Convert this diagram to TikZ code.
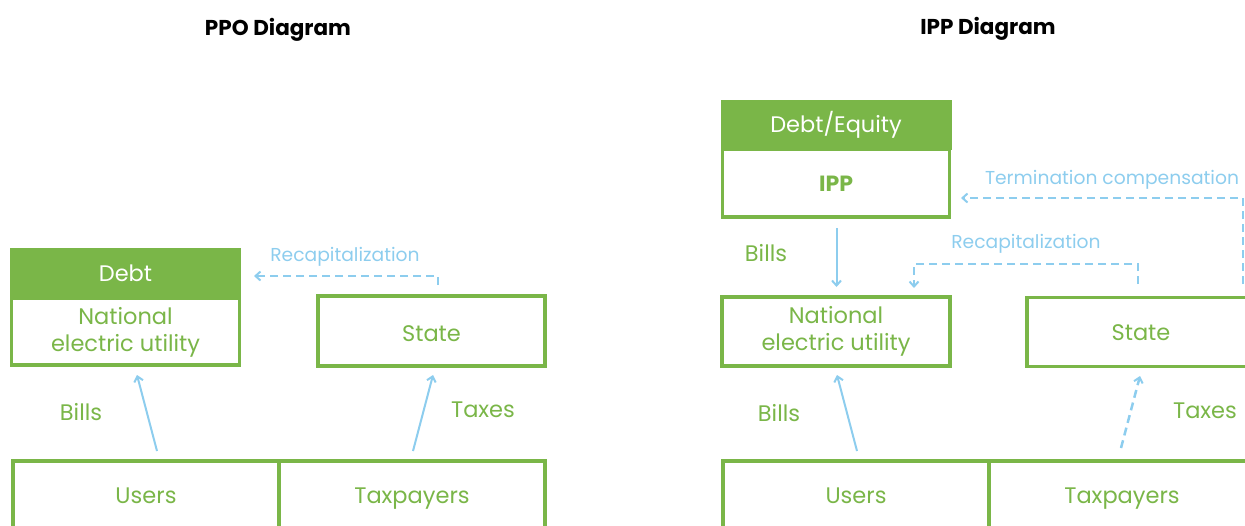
\documentclass[tikz,border=0pt]{standalone}
\usepackage{fontspec}
\setmainfont{Poppins}
\usetikzlibrary{arrows.meta}
\definecolor{gr}{HTML}{7AB648}
\definecolor{bl}{HTML}{8DCDEE}
\begin{document}
\begin{tikzpicture}[x=1pt,y=-1pt,
  fs/.style={font=\fontsize{22.5}{27}\selectfont},
  one/.style={text height=21pt,text depth=5pt},
  box/.style={fs,draw=gr,line width=3.5pt,fill=white,text=gr,align=center,inner sep=0pt},
  head/.style={fs,one,fill=gr,draw=gr,line width=1pt,text=white,inner sep=0pt},
  lab/.style={fs,one,text=gr,inner sep=0pt},
  blab/.style={text=bl,font=\fontsize{18.7}{22}\selectfont},
  ttl/.style={font=\bfseries\fontsize{21.5}{24}\selectfont},
  flow/.style={draw=bl,line width=2pt,-{Straight Barb[length=5pt,width=9pt,line width=2pt]}},
  dflow/.style={flow,line width=2.5pt,dash pattern=on 8pt off 5pt}]
\useasboundingbox (0,0) rectangle (1245,525);
\clip (0,0) rectangle (1245,525);
% titles
\node[ttl] (t1) at (278,30) {PPO Diagram};
\node[ttl] (t2) at (988,29) {IPP Diagram};
% ---------- PPO ----------
\node[head,minimum width=230,minimum height=50] (debt) at (125.5,273) {Debt};
\node[box,minimum width=228,minimum height=67] (neu) at (125.5,331.5) {\strut National\\electric utility};
\node[box,one,minimum width=227,minimum height=70] (state) at (431.5,331) {};
\node[lab] (statet) at (431.5,333) {State};
\node[box,one,minimum width=266,minimum height=68] (users) at (146,495) {Users};
\node[box,one,minimum width=266,minimum height=68] (tax) at (412,495) {Taxpayers};
\node[lab] (bills) at (81,412) {Bills};
\node[lab] (taxes) at (483,409) {Taxes};
\node[blab] (recap) at (345,257) {Recapitalization};
\coordinate (b1s) at (157,451); \coordinate (b1e) at (137,375);
\coordinate (t1s) at (413,451); \coordinate (t1e) at (433,375);
\coordinate (r1s) at (438,285); \coordinate (r1e) at (254,276);
\draw[flow] (b1s) -- (b1e);
\draw[flow] (t1s) -- (t1e);
\draw[dflow] (r1s) |- (r1e);
% ---------- IPP ----------
\node[head,minimum width=230,minimum height=49] (de) at (836,124.5) {Debt/Equity};
\node[box,one,minimum width=227,minimum height=68,font=\bfseries\fontsize{22}{26}\selectfont] (ipp) at (836,183) {IPP};
\node[box,minimum width=228,minimum height=69] (neu2) at (836,331.5) {National\\electric utility};
\node[box,one,minimum width=228,minimum height=69] (state2) at (1141,332) {State};
\node[box,one,minimum width=266,minimum height=68] (users2) at (856,495) {Users};
\node[box,one,minimum width=266,minimum height=68] (tax2) at (1122,495) {Taxpayers};
\node[lab] (bills2) at (766,253) {Bills};
\node[lab] (bills3) at (779,413) {Bills};
\node[lab] (taxes2) at (1205,410) {Taxes};
\node[blab] (term) at (1112,180) {Termination compensation};
\node[blab] (recap2) at (1026,244) {Recapitalization};
\coordinate (i1s) at (836.5,228); \coordinate (i1e) at (836.5,287);
\coordinate (b2s) at (857,451); \coordinate (b2e) at (837,375);
\coordinate (t2s) at (1121,448); \coordinate (t2e) at (1140,376);
\coordinate (r2s) at (1138,284); \coordinate (r2m) at (914,264); \coordinate (r2e) at (914,288);
\coordinate (c2s) at (1243,284); \coordinate (c2e) at (961,198);
\draw[flow] (i1s) -- (i1e);
\draw[flow] (b2s) -- (b2e);
\draw[dflow] (t2s) -- (t2e);
\draw[dflow] (r2s) |- (r2m) -- (r2e);
\draw[dflow] (c2s) |- (c2e);
\end{tikzpicture}
\end{document}
